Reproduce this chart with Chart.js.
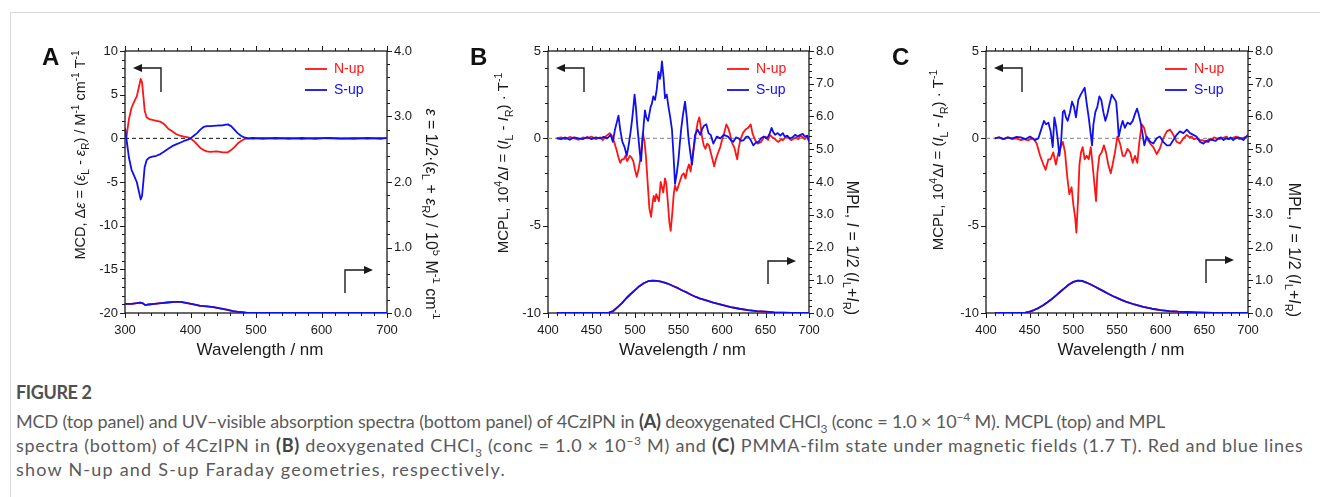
<!DOCTYPE html>
<html>
<head>
<meta charset="utf-8">
<script src="https://cdn.jsdelivr.net/npm/chart.js@4.4.1/dist/chart.umd.min.js"></script>
<style>
html, body { margin: 0; padding: 0; background: #fff; }
body { width: 1320px; height: 497px; position: relative; overflow: hidden; font-family: "Liberation Sans", Arial, sans-serif; }
.frame { position: absolute; left: 10px; top: 12px; width: 1330px; height: 500px; border-left: 1px solid #d9d9d9; border-top: 1px solid #d9d9d9; }
.panel { position: absolute; top: 0; width: 440px; height: 360px; }
#pA { left: 0; } #pB { left: 440px; } #pC { left: 880px; }
.cap { position: absolute; left: 16px; font-family: Lato, sans-serif; font-size: 18px; color: #5a5a5a; white-space: nowrap; line-height: 20px; }
.cap b { color: #444; }
.fig { font-weight: 700; color: #505050; }
sub, sup { font-size: 12px; line-height: 0; }
</style>
</head>
<body>
<div class="frame"></div>
<div class="panel" id="pA"><canvas id="cA" width="440" height="360"></canvas></div>
<div class="panel" id="pB"><canvas id="cB" width="440" height="360"></canvas></div>
<div class="panel" id="pC"><canvas id="cC" width="440" height="360"></canvas></div>

<div class="cap fig" style="top:382px" data-w="76">FIGURE 2</div>
<div class="cap" style="top:411px" data-w="1149">MCD (top panel) and UV–visible absorption spectra (bottom panel) of 4CzIPN in <b>(A)</b> deoxygenated CHCl<sub>3</sub> (conc = 1.0 × 10<sup>−4</sup> M). MCPL (top) and MPL</div>
<div class="cap" style="top:435px" data-w="1286">spectra (bottom) of 4CzIPN in <b>(B)</b> deoxygenated CHCl<sub>3</sub> (conc = 1.0 × 10<sup>−3</sup> M) and <b>(C)</b> PMMA-film state under magnetic fields (1.7 T). Red and blue lines</div>
<div class="cap" style="top:459px" data-w="489">show N-up and S-up Faraday geometries, respectively.</div>

<script>
// === DADOS: painel A (MCD + absorção) ===
const wlA = [300,303,306,310,314,318,321,324,326,328,330,333,337,342,348,354,360,366,372,378,384,390,396,400,405,410,415,420,425,430,440,450,457,462,467,472,477,482,488,495,510,530,550,570,590,610,630,650,670,690,700];
const mcdNupA = [-1.2,0.6,2.2,3.5,4.2,4.8,5.8,6.8,6.4,4.9,3.2,2.4,2.2,2.1,2.0,1.9,1.6,1.1,0.8,0.5,0.3,0.2,0.1,0.0,-0.3,-0.7,-1.1,-1.35,-1.5,-1.55,-1.5,-1.6,-1.6,-1.35,-1.0,-0.6,-0.3,-0.1,0.0,-0.05,0.05,-0.05,0.05,-0.1,0.05,0.0,-0.05,0.05,-0.05,0.05,0.0];
const mcdSupA = [1.2,-0.5,-2.2,-3.6,-4.3,-5.0,-6.0,-7.0,-6.6,-5.0,-3.3,-2.5,-2.2,-2.1,-2.0,-1.8,-1.5,-1.2,-0.9,-0.7,-0.5,-0.3,-0.15,0.0,0.3,0.6,1.0,1.3,1.4,1.4,1.45,1.5,1.6,1.4,1.0,0.6,0.3,0.1,0.0,0.05,-0.05,0.05,-0.05,0.05,-0.05,0.05,0.0,-0.05,0.05,-0.05,0.05];
const wlAbsA = [300,310,318,323,327,331,336,345,355,365,375,385,395,405,415,425,435,445,455,465,475,485,495,700];
const absA = [0.14,0.14,0.15,0.16,0.15,0.12,0.13,0.14,0.15,0.16,0.17,0.17,0.15,0.13,0.11,0.10,0.09,0.07,0.05,0.03,0.015,0.005,0,0];

// === DADOS: painel B (MCPL + MPL, CHCl3) ===
const wlNupB = [410,415,420,425,430,435,440,445,450,455,460,463,466,471,474,476,479,481,483,485,487,489,491,494,496,498,500,502,504,506,508,509,511,512.5,514.5,516.5,518.5,520,521.5,523,524.5,526,527.5,529.5,531,532.5,534.5,536,537.5,539.5,541,543,544.5,546,548,550,552,554,556,558,560,562,564,566,568,570,572,574,575.5,577,579,581,583,585,587,589,591,593,595,598,600,602,605,607,609,611,614,616,617.5,619,621,624,627,630,633,635,638,641,645,648,650,653,655,658,660,663,665,668,670,673,675,678,680,683,685,688,690,693,695,698,700];
const mcplNupB = [0,0.05,-0.05,0.08,0,-0.08,0.05,0,0.1,-0.05,0.05,-0.1,0.1,0.3,0.1,-0.2,-0.7,-1.1,-1.4,-1.2,-1.2,-1.0,-1.3,-1.0,-1.1,-1.3,-1.8,-2.2,-1.8,-1.2,-0.3,0.3,-0.2,-1.0,-2.5,-4.0,-4.5,-3.8,-3.3,-3.6,-3.2,-3.4,-3.6,-2.5,-2.8,-3.1,-2.3,-2.6,-3.5,-4.8,-5.3,-4.2,-3.2,-2.7,-3.0,-2.7,-2.4,-2.1,-2.0,-2.3,-1.8,-1.5,-1.9,-1.0,-0.4,0.3,0.9,1.2,0.7,0.1,-0.4,-0.6,-0.3,-0.4,-0.8,-1.2,-1.6,-1.2,-0.9,-0.5,-0.1,0.2,0.8,0.6,0.3,-0.2,-0.5,-0.9,-1.2,-0.6,-0.1,0.3,0.5,0.6,0.8,0.3,-0.1,-0.3,-0.2,0.05,0.1,-0.1,0.2,0.05,0,-0.15,-0.2,-0.05,-0.1,0.05,0.1,-0.05,-0.1,0,0.05,-0.05,0.15,0.05,-0.05,0.1,-0.1];
const wlSupB = [410,415,420,425,430,435,440,445,450,455,460,464,468,472,474.5,477,479,481,483,485.5,488,490.5,493,495,496.5,498,499.5,501,502.5,504,505.5,507,508.5,510,511.5,513,515,516.5,518,519.5,521,523,525,527,528.5,529.5,531,532.8,534.5,536.5,538.5,540.5,542.5,544.3,546,548,550,551.5,553,555,557.5,559.5,561.5,563.5,565.5,567,569,572,575,577,579,582,584.5,587,590,594,598,602,607,610,613,616,619,622,625,628,630,633,636,639,642,645,648,651,653,655,657,659,661,664,667,670,672,675,678,681,684,687,690,693,695,698,700];
const mcplSupB = [0,-0.05,0.05,-0.08,0.06,0,-0.05,0.08,-0.05,0.05,0,0.08,0,0.2,-0.2,0.5,0.9,1.3,0.5,-0.2,-0.5,-1.0,-0.3,0.4,1.0,1.7,2.5,1.8,0.8,0,-0.8,-1.3,-0.2,0.8,1.6,1.2,1.0,1.4,1.8,2.0,2.4,2.2,2.8,3.8,3.4,3.6,4.4,3.5,2.3,2.5,1.8,1.2,0.5,-1.0,-2.6,-2.0,-1.2,-0.3,0.5,1.3,2.1,1.2,0,-0.8,-1.5,-0.8,0.2,0.5,0.2,0.5,0.7,0.8,0.3,0.2,-0.3,0.1,0,0.2,0.1,-0.1,-0.2,0.05,0,-0.15,-0.1,0.1,0.1,-0.1,-0.4,-0.25,-0.2,0,0.1,0,0.1,0.3,0.6,0.35,0.2,0.3,0.15,0.3,0.1,0.15,0,0.05,0.2,0.1,0.2,0.25,0.1,0.15,-0.2];
const wlMplB = [410,465,470,475,480,485,490,495,500,505,510,515,520,525,530,535,540,545,550,555,560,565,570,575,580,590,600,610,620,630,640,650,660,670,680,700];
const mplB = [0,0,0.01,0.06,0.18,0.3,0.45,0.58,0.7,0.82,0.91,0.97,0.99,0.98,0.96,0.92,0.87,0.81,0.75,0.68,0.62,0.55,0.49,0.44,0.4,0.32,0.25,0.18,0.13,0.09,0.06,0.04,0.02,0.01,0,0];

// === DADOS: painel C (MCPL + MPL, filme PMMA) ===
const wlNupC = [410,415,420,425,430,435,440,444,448,451,454,458,462,465.7,468.3,471.4,474,477,480,483,485.5,488,490.5,493,495.4,498,500,502,503.5,505.4,507,508.8,510.7,513,515.3,517.6,520,522,524.5,526,527.5,529.8,532.5,535,537.4,540,542.8,545,547.7,550.4,553.5,556.5,559,562,565,568,570.6,573.3,575.6,578.3,581,584,588,591.6,595.5,599,603,607,610.7,614.5,618.3,622,626,630,633,635.5,638,641,644,647,650,652.7,655,658.4,661,664,667,670,673,675.6,678,681,684,687,690,692.8,696,700];
const mcplNupC = [0,0.05,-0.05,0.05,-0.05,0,-0.1,-0.05,-0.12,-0.05,0,-0.3,-1.0,-1.5,-1.8,-1.2,-1.2,-0.8,-1.5,-0.8,-0.5,-0.2,-0.8,-2.2,-3.2,-2.8,-3.8,-4.5,-5.4,-3.5,-1.5,-0.8,-0.5,-1.2,-1.0,-1.2,-0.5,-1.5,-2.8,-3.6,-2.0,-1.0,-0.8,-0.4,-0.8,-1.5,-2.0,-1.5,-0.8,0.1,-0.3,-1.0,-1.0,-0.6,-0.8,-1.4,-1.0,-1.4,-0.2,0.8,0.6,0,-0.3,-0.5,-0.9,-0.6,0,0.4,0.5,0.2,-0.2,-0.3,0,0.2,0.05,0.1,-0.05,0,-0.1,-0.1,-0.15,-0.2,-0.05,-0.1,0.05,0,-0.05,0,0.05,0.1,-0.05,0,0.05,0.1,-0.05,0,0.05,0.1];
const wlSupC = [410,415,420,425,430,435,440,445,450.4,453,456,460,463.8,466.4,468.7,471.4,474,476.4,478.3,480.2,482,484,486,488,489.7,491.6,493.5,496.2,498.5,500.8,503,505.7,508.4,510.7,513,515.3,517.6,520,521.4,523,525.2,527.5,529.8,532,534.4,536.7,539,541.2,544,546.6,549,550.4,552,554.2,556.5,559,562,565,568,570.6,573,575.2,577.5,579.4,581.3,584,588,591.6,595.5,599,603,607,610.7,614.5,618.3,622,626,630,633.6,637.4,641,645,649,652,654.6,657,660,663,666,669,672,675,677.5,680,683,686,689,692,694.7,697,700];
const mcplSupC = [0,0.05,-0.05,0.05,0,0.08,0.05,-0.05,0.1,0,-0.1,0,0.6,1.0,0.8,0.9,0.4,-0.5,1.2,0.7,0,-1.0,-0.2,1.5,1.6,1.2,1.0,1.5,2.1,1.8,1.2,2.2,2.5,2.7,2.9,2.0,1.2,0.2,-0.4,0.8,1.5,1.8,2.4,2.2,1.5,1.0,1.4,1.9,2.5,2.3,2.1,1.3,0.1,0.6,1.0,0.6,0.9,0.8,1.0,1.4,1.7,1.3,0.8,0.2,-0.4,0.1,-0.2,-0.3,0,0.1,-0.2,-0.4,-0.4,-0.1,0.2,0.4,0.3,0.5,0.3,0.2,0.1,-0.2,-0.3,-0.15,-0.2,-0.05,-0.1,-0.15,0,0.05,-0.1,0,-0.05,0.05,-0.1,0,0.05,0,-0.1,0.05,0.2];
const wlMplC = [410,440,445,450,455,460,465,470,475,480,485,490,495,500,505,510,515,520,525,530,535,540,545,550,555,560,570,580,590,600,610,620,630,640,650,660,670,700];
const mplC = [0,0,0.01,0.04,0.09,0.15,0.23,0.32,0.42,0.53,0.65,0.76,0.87,0.95,0.99,0.98,0.93,0.87,0.8,0.73,0.66,0.59,0.52,0.46,0.4,0.35,0.26,0.19,0.13,0.09,0.06,0.04,0.03,0.02,0.01,0.005,0,0];

// === TEXTOS ===
const ink = '#1a1a1a';
const RED = '#ff1414';
const BLUE = '#1010ee';
const FAM = '"Liberation Sans", Arial, sans-serif';

const titleMCD = [{t:'MCD, Δ'},{t:'ε',i:1},{t:' = ('},{t:'ε',i:1},{t:'L',s:'sub'},{t:' - '},{t:'ε',i:1},{t:'R',s:'sub'},{t:') / M'},{t:'-1',s:'sup'},{t:' cm'},{t:'-1',s:'sup'},{t:' T'},{t:'-1',s:'sup'}];
const titleAbs = [{t:'ε',i:1},{t:' = 1/2·('},{t:'ε',i:1},{t:'L',s:'sub'},{t:' + '},{t:'ε',i:1},{t:'R',s:'sub'},{t:') / 10'},{t:'5',s:'sup'},{t:' M'},{t:'-1',s:'sup'},{t:' cm'},{t:'-1',s:'sup'}];
const titleMCPL = [{t:'MCPL, 10'},{t:'4',s:'sup'},{t:'Δ'},{t:'I',i:1},{t:' = ('},{t:'I',i:1},{t:'L',s:'sub'},{t:' - '},{t:'I',i:1},{t:'R',s:'sub'},{t:') · T'},{t:'-1',s:'sup'}];
const titleMPL = [{t:'MPL, '},{t:'I',i:1},{t:' = 1/2 ('},{t:'I',i:1},{t:'L',s:'sub'},{t:'+'},{t:'I',i:1},{t:'R',s:'sub'},{t:')'}];

function pts(xs, ys) { return xs.map((x, k) => ({ x: x, y: ys[k] })); }

// --- texto com sub/sobrescrito, girado ---
function drawRich(ctx, runs, cx, cy, angle, size) {
    const fontOf = r => (r.i ? 'italic ' : '') + (r.s ? size * 0.7 : size).toFixed(1) + 'px ' + FAM;
    let total = 0;
    runs.forEach(r => { ctx.font = fontOf(r); r.w = ctx.measureText(r.t).width; total += r.w; });
    ctx.save();
    ctx.translate(cx, cy);
    ctx.rotate(angle);
    ctx.fillStyle = ink;
    ctx.textAlign = 'left';
    ctx.textBaseline = 'alphabetic';
    let x = -total / 2;
    const base = size * 0.35;
    runs.forEach(r => {
        ctx.font = fontOf(r);
        const dy = r.s === 'sub' ? size * 0.3 : (r.s === 'sup' ? -size * 0.42 : 0);
        ctx.fillText(r.t, x, base + dy);
        x += r.w;
    });
    ctx.restore();
}

function arrowHead(ctx, x, y, dir) {
    ctx.beginPath();
    ctx.moveTo(x, y);
    ctx.lineTo(x - dir * 9, y - 4);
    ctx.lineTo(x - dir * 9, y + 4);
    ctx.closePath();
    ctx.fill();
}

// --- moldura, ticks menores, setas, legenda ---
const decorPlugin = {
    id: 'decor',
    beforeDatasetsDraw(chart) {
        const c = chart.options.plugins.decor;
        const ctx = chart.ctx;
        const a = chart.chartArea;
        const sx = chart.scales.x, sy = chart.scales.y, sy2 = chart.scales.y2;
        ctx.save();
        ctx.strokeStyle = ink;
        ctx.lineWidth = 1.3;
        ctx.strokeRect(a.left, a.top, a.right - a.left, a.bottom - a.top);
        ctx.lineWidth = 1;
        ctx.beginPath();
        // x (baixo e cima)
        for (let v = c.xMin; v <= c.xMax + 1e-6; v += c.xMinor) {
            const px = Math.round(sx.getPixelForValue(v)) + 0.5;
            const major = Math.abs((v - c.xMin) / c.xStep - Math.round((v - c.xMin) / c.xStep)) < 1e-6;
            const len = major ? 5 : 3;
            ctx.moveTo(px, a.bottom); ctx.lineTo(px, a.bottom + len);
            ctx.moveTo(px, a.top); ctx.lineTo(px, a.top - len);
        }
        for (let v = c.yMin; v <= c.yMax + 1e-6; v += c.yMinor) {
            const py = Math.round(sy.getPixelForValue(v)) + 0.5;
            const major = Math.abs(v / c.yStep - Math.round(v / c.yStep)) < 1e-6;
            ctx.moveTo(a.left, py); ctx.lineTo(a.left - (major ? 5 : 3), py);
        }
        for (let v = c.y2Min; v <= c.y2Max + 1e-6; v += c.y2Minor) {
            const py = Math.round(sy2.getPixelForValue(v)) + 0.5;
            const major = Math.abs(v / c.y2Step - Math.round(v / c.y2Step)) < 1e-6;
            ctx.moveTo(a.right, py); ctx.lineTo(a.right + (major ? 5 : 3), py);
        }
        ctx.stroke();
        ctx.restore();
    },
    afterDatasetsDraw(chart) {
        const c = chart.options.plugins.decor;
        const ctx = chart.ctx;
        const a = chart.chartArea;
        ctx.save();
        ctx.strokeStyle = ink;
        ctx.fillStyle = ink;
        ctx.lineWidth = 1.4;
        // seta para a esquerda (eixo esquerdo)
        ctx.beginPath();
        ctx.moveTo(a.left + 36, a.top + 41);
        ctx.lineTo(a.left + 36, a.top + 17);
        ctx.lineTo(a.left + 14, a.top + 17);
        ctx.stroke();
        arrowHead(ctx, a.left + 8, a.top + 17, -1);
        // seta para a direita (eixo direito)
        ctx.beginPath();
        ctx.moveTo(a.left + 220, a.top + c.rArrowY + 23);
        ctx.lineTo(a.left + 220, a.top + c.rArrowY);
        ctx.lineTo(a.left + 242, a.top + c.rArrowY);
        ctx.stroke();
        arrowHead(ctx, a.left + 248, a.top + c.rArrowY, 1);
        // legenda
        ctx.lineWidth = 1.8;
        ctx.font = '14px ' + FAM;
        ctx.textBaseline = 'middle';
        ctx.textAlign = 'left';
        [[RED, 'N-up', 18], [BLUE, 'S-up', 39]].forEach(([col, label, dy]) => {
            ctx.strokeStyle = col;
            ctx.fillStyle = col;
            ctx.beginPath();
            ctx.moveTo(a.left + c.legX, a.top + dy);
            ctx.lineTo(a.left + c.legX + 22, a.top + dy);
            ctx.stroke();
            ctx.fillText(label, a.left + c.legX + 29, a.top + dy + 0.5);
        });
        // letra do painel
        ctx.fillStyle = '#111';
        ctx.font = 'bold 24px ' + FAM;
        ctx.textBaseline = 'alphabetic';
        ctx.fillText(c.letter, c.letterX, 65);
        // titulos dos eixos
        drawRich(ctx, c.leftTitle, c.lt[0], c.lt[1], -Math.PI / 2, c.ltSize);
        drawRich(ctx, c.rightTitle, c.rt[0], c.rt[1], Math.PI / 2, c.rtSize);
        ctx.fillStyle = ink;
        ctx.font = '17px ' + FAM;
        ctx.textAlign = 'center';
        ctx.fillText('Wavelength / nm', (a.left + a.right) / 2 + 4, 355);
        ctx.restore();
    }
};

function makePanel(id, c, datasets) {
    const tickFont = { family: FAM, size: 13 };
    new Chart(document.getElementById(id), {
        type: 'line',
        data: { datasets: datasets },
        plugins: [decorPlugin],
        options: {
            responsive: false,
            animation: false,
            events: [],
            layout: { padding: { top: 51, left: 0, right: 0, bottom: 0 } },
            elements: { point: { radius: 0 }, line: { tension: 0, borderJoinStyle: 'round' } },
            plugins: { legend: { display: false }, tooltip: { enabled: false }, decor: c },
            scales: {
                x: {
                    type: 'linear', position: 'bottom', min: c.xMin, max: c.xMax,
                    afterFit(s) { s.height = 47; },
                    grid: { display: false, drawTicks: false }, border: { display: false },
                    ticks: { stepSize: c.xStep, padding: 10, font: tickFont, color: ink, maxRotation: 0, autoSkip: false, callback: v => String(v) }
                },
                y: {
                    type: 'linear', position: 'left', min: c.yMin, max: c.yMax,
                    afterFit(s) { s.width = c.leftW; },
                    grid: { display: false, drawTicks: false }, border: { display: false },
                    ticks: { stepSize: c.yStep, padding: 7, font: tickFont, color: ink, autoSkip: false, callback: v => String(v) }
                },
                y2: {
                    type: 'linear', position: 'right', min: c.y2Min, max: c.y2Max,
                    afterFit(s) { s.width = c.rightW; },
                    grid: { display: false, drawTicks: false }, border: { display: false },
                    ticks: { stepSize: c.y2Step, padding: 7, font: tickFont, color: ink, autoSkip: false, callback: v => v.toFixed(1) }
                }
            }
        }
    });
}

function line(data, color, axis, order, extra) {
    return Object.assign({ data: data, borderColor: color, borderWidth: 1.8, yAxisID: axis, order: order, pointRadius: 0, fill: false }, extra || {});
}

// painel A
makePanel('cA', {
    letter: 'A', letterX: 42, xMin: 300, xMax: 700, xStep: 100, xMinor: 20,
    yMin: -20, yMax: 10, yStep: 5, yMinor: 1, y2Min: 0, y2Max: 4, y2Step: 1, y2Minor: 0.2,
    leftW: 125, rightW: 53, rArrowY: 219, legX: 180,
    leftTitle: titleMCD, lt: [80, 155], ltSize: 14.5, rightTitle: titleAbs, rt: [432, 214], rtSize: 16
}, [
    line(pts(wlA, mcdSupA), BLUE, 'y', 1),
    line(pts(wlA, mcdNupA), RED, 'y', 2),
    line(pts(wlAbsA, absA), BLUE, 'y2', 3),
    line(pts(wlAbsA, absA), RED, 'y2', 4),
    line(pts([300, 700], [0, 0]), '#111', 'y', 5, { borderWidth: 1, borderDash: [4, 3] })
]);

// painel B
makePanel('cB', {
    letter: 'B', letterX: 30, xMin: 400, xMax: 700, xStep: 50, xMinor: 10,
    yMin: -10, yMax: 5, yStep: 5, yMinor: 1, y2Min: 0, y2Max: 8, y2Step: 1, y2Minor: 0.2,
    leftW: 108, rightW: 71, rArrowY: 210, legX: 179,
    leftTitle: titleMCPL, lt: [63, 163], ltSize: 15, rightTitle: titleMPL, rt: [413, 248], rtSize: 16
}, [
    line(pts(wlSupB, mcplSupB), BLUE, 'y', 1),
    line(pts(wlNupB, mcplNupB), RED, 'y', 2),
    line(pts(wlMplB, mplB), BLUE, 'y2', 3),
    line(pts(wlMplB, mplB), RED, 'y2', 4),
    line(pts([400, 700], [0, 0]), '#9a9a9a', 'y', 5, { borderWidth: 1.2, borderDash: [4, 3] })
]);

// painel C
makePanel('cC', {
    letter: 'C', letterX: 12, xMin: 400, xMax: 700, xStep: 50, xMinor: 10,
    yMin: -10, yMax: 5, yStep: 5, yMinor: 1, y2Min: 0, y2Max: 8, y2Step: 1, y2Minor: 0.2,
    leftW: 106, rightW: 72, rArrowY: 209, legX: 179,
    leftTitle: titleMCPL, lt: [58, 160], ltSize: 15, rightTitle: titleMPL, rt: [415, 250], rtSize: 16
}, [
    line(pts(wlSupC, mcplSupC), BLUE, 'y', 1),
    line(pts(wlNupC, mcplNupC), RED, 'y', 2),
    line(pts(wlMplC, mplC), BLUE, 'y2', 3),
    line(pts(wlMplC, mplC), RED, 'y2', 4),
    line(pts([400, 700], [0, 0]), '#9a9a9a', 'y', 5, { borderWidth: 1.2, borderDash: [4, 3] })
]);

// --- ajuste da largura das linhas da legenda da figura ---
document.querySelectorAll('.cap').forEach(el => {
    const target = +el.dataset.w;
    const w = el.getBoundingClientRect().width;
    const n = el.textContent.length;
    if (n > 1) el.style.letterSpacing = ((target - w) / (n - 1)).toFixed(3) + 'px';
});
</script>
</body>
</html>
